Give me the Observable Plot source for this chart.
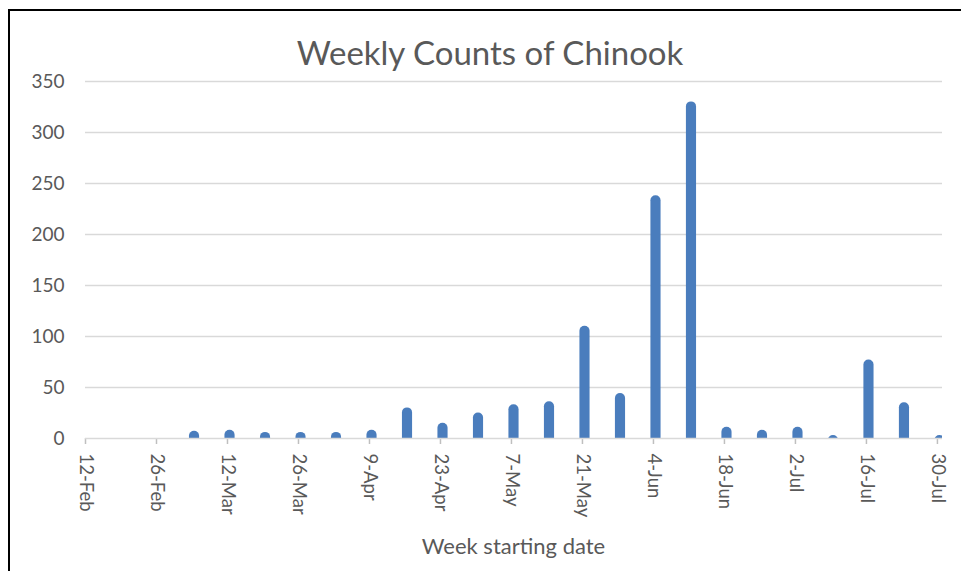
<!DOCTYPE html>
<html>
<head>
<meta charset="utf-8">
<script src="https://cdn.jsdelivr.net/npm/d3@7"></script>
<script src="https://cdn.jsdelivr.net/npm/@observablehq/plot@0.6"></script>
<style>
  html, body { margin: 0; padding: 0; background: #fff; }
  #wrap { position: relative; width: 961px; height: 571px; overflow: hidden; font-family: Lato, "Open Sans", sans-serif; }
  #frame { position: absolute; left: 8px; top: 9px; width: 970px; height: 600px; border-left: 2px solid #000; border-top: 2px solid #000; box-sizing: border-box; pointer-events: none; }
  #title { position: absolute; left: 0; width: 980px; top: 32px; text-align: center; font-size: 33px; color: #595959; }
  #xtitle { position: absolute; left: 85px; width: 857px; top: 532px; text-align: center; font-size: 22px; color: #595959; }
  #chart { position: absolute; left: 0; top: 0; }
</style>
</head>
<body>
<div id="wrap">
  <div id="chart"></div>
  <div id="title">Weekly Counts of Chinook</div>
  <div id="xtitle">Week starting date</div>
  <div id="frame"></div>
</div>
<script>
// Week starting dates (2018) and weekly Chinook counts
const weeks = [
  "2018-02-12","2018-02-19","2018-02-26","2018-03-05","2018-03-12","2018-03-19",
  "2018-03-26","2018-04-02","2018-04-09","2018-04-16","2018-04-23","2018-04-30",
  "2018-05-07","2018-05-14","2018-05-21","2018-05-28","2018-06-04","2018-06-11",
  "2018-06-18","2018-06-25","2018-07-02","2018-07-09","2018-07-16","2018-07-23",
  "2018-07-30"
];
const counts = [
  0, 0, 0, 7, 8, 6,
  6, 6, 8, 30, 15, 25,
  33, 36, 110, 44, 238, 330,
  11, 8, 11, 3, 77, 35,
  3
];
const tickDates = [
  "2018-02-12","2018-02-26","2018-03-12","2018-03-26","2018-04-09","2018-04-23",
  "2018-05-07","2018-05-21","2018-06-04","2018-06-18","2018-07-02","2018-07-16","2018-07-30"
];
const yTicks = [0, 50, 100, 150, 200, 250, 300, 350];
const axisStart = "2018-02-12";
const axisEnd = "2018-07-31";

const DAY = 86400000;
const data = weeks.map((w, i) => {
  const d = new Date(w + "T00:00:00Z");
  return { x1: new Date(+d - 0.5 * DAY), x2: new Date(+d + 1.5 * DAY), value: counts[i] };
}).filter(d => d.value > 0);

const fmt = d3.utcFormat("%-d-%b");
const grey = "#595959";
const barColor = "#4a7dbd";

const chart = Plot.plot({
  width: 961,
  height: 571,
  marginLeft: 85,
  marginRight: 19,
  marginTop: 81,
  marginBottom: 133,
  style: { fontFamily: "Lato, 'Open Sans', sans-serif", fontSize: "19px", color: grey, background: "transparent" },
  x: {
    type: "utc",
    domain: [new Date(axisStart + "T00:00:00Z"), new Date(axisEnd + "T00:00:00Z")],
    ticks: tickDates.map(t => new Date(t + "T00:00:00Z")),
    tickFormat: fmt,
    tickRotate: 90,
    tickSize: 6,
    tickPadding: 9,
    label: null
  },
  y: {
    domain: [0, 350],
    ticks: yTicks,
    tickSize: 0,
    tickPadding: 21,
    label: null
  },
  marks: [
    Plot.gridY(yTicks.filter(t => t > 0), { stroke: "#d9d9d9", strokeOpacity: 1, strokeWidth: 1.5 }),
    Plot.rectY(data, { x1: "x1", x2: "x2", y1: 0, y2: "value", fill: barColor, rx: 5, ry: 5, insetBottom: -8, clip: true }),
    Plot.ruleY([0], { stroke: "#d9d9d9", strokeWidth: 1.5 })
  ]
});

// style the axes
chart.querySelectorAll("[aria-label='x-axis tick']").forEach(e => { e.setAttribute("stroke", "#bfbfbf"); e.setAttribute("stroke-width", "1.5"); });
chart.querySelectorAll("[aria-label='x-axis tick label'], [aria-label='y-axis tick label']").forEach(e => e.setAttribute("fill", grey));
chart.querySelectorAll("[aria-label='x-axis tick label']").forEach(e => e.setAttribute("font-size", "18.5px"));
document.getElementById("chart").appendChild(chart);
</script>
</body>
</html>
